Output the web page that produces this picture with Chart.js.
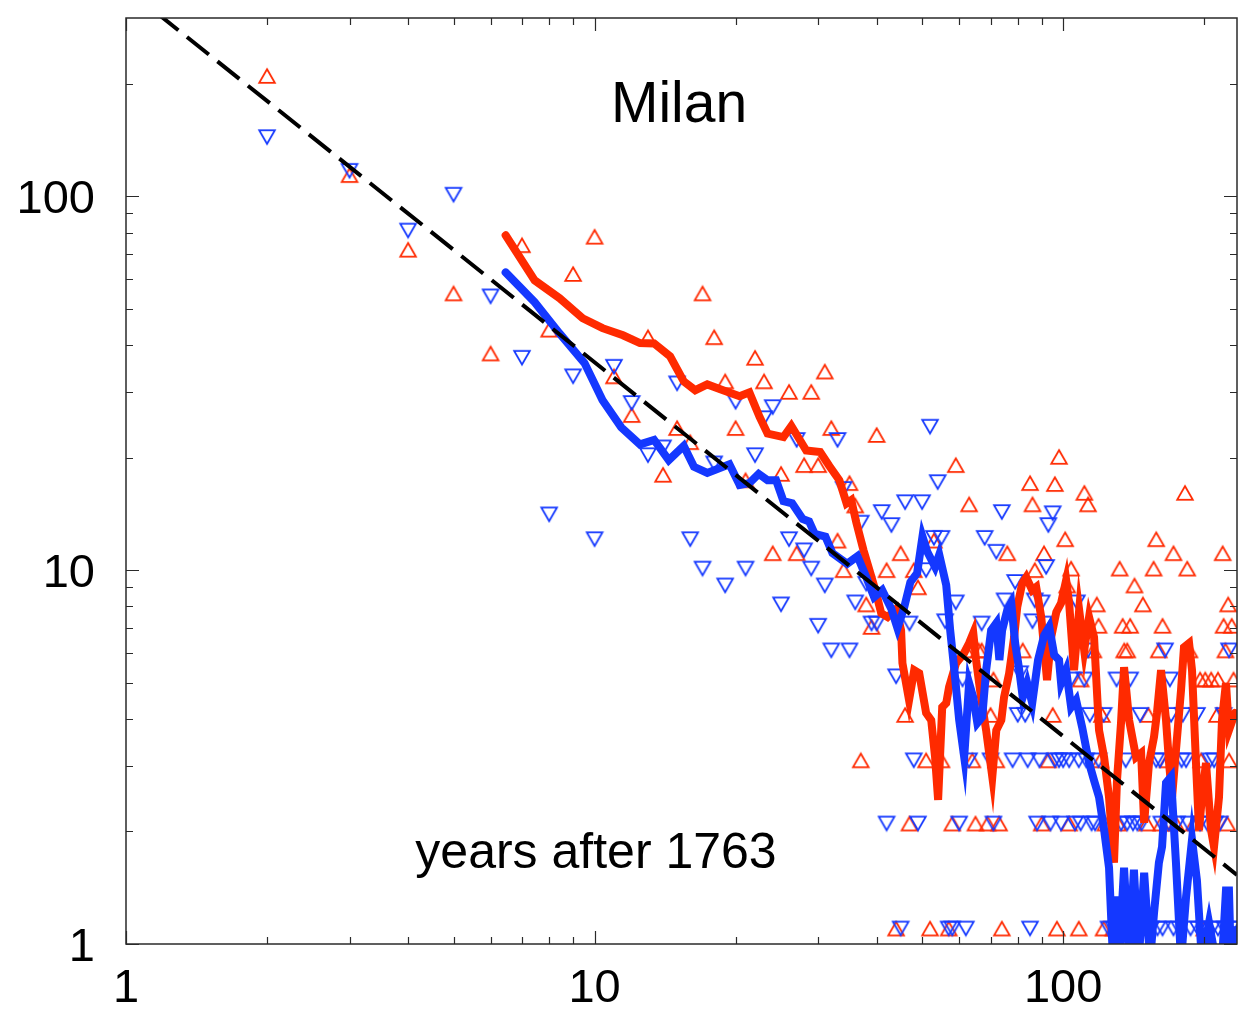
<!DOCTYPE html>
<html lang="en">
<head>
<meta charset="UTF-8">
<script src="https://cdn.jsdelivr.net/npm/chart.js"></script>
<title>Milan</title>
<style>
  body { margin: 0; background: #fff; }
</style>
</head>
<body>
<canvas id="grafico" width="1238" height="1019"></canvas>
<script>
// marcadores (triangulo para cima = vermelho, para baixo = azul)
var redX = [2,3,4,5,6,7,8,9,10,11,12,13,14,15,16,17,18,19,20,21,22,23,24,25,26,27,28,29,30,31,32,33,34,35,36,37,38,39,40,42,44,45,46,47,48,49,51,52,53,55,57,58,59,62,63,64,65,66,67,69,70,71,72,73,74,76,82,85,86,87,90,91,93,95,96,97,98,101,102,103,104,108,109,111,113,116,118,119,120,121,122,123,128,131,132,134,135,137,139,142,148,151,152,156,158,160,162,163,167,172,174,182,184,186,190,196,197,200,201,207,213,214,219,220,222,224,225,226,229,231]
var redY = [210,114,72,55,38,74,44,62,78,33,26,42,18,24,22,55,42,32,24,17.4,37,32,11.1,18.1,30,11.1,19.1,30,19.1,34,24,12,10,17.1,14.9,3.1,8.1,7.05,23,10,1.1,11.1,4.1,2.1,10,9,3.1,1.1,12,3.1,1.1,2.1,19.1,6.1,15,3.1,2.1,6.1,6.1,2.1,4.1,5.1,3.1,2.1,1.1,11.1,6.1,17.1,15,10,2.1,11.1,3.1,4.1,17,1.1,20.1,12.1,9.1,2.1,10.1,1.1,5.1,16.1,15,6.1,8.1,7.1,3.1,4.1,1.1,2.1,1.1,2.1,10.1,7.1,6.1,6.1,7.1,9.1,8.1,2.1,4.1,10.1,12.1,6.1,2.1,7.1,3.1,11.1,2.1,16.1,10.1,6.1,2.1,5.1,3.1,1.1,5.1,5.1,4.1,5.1,11.1,7.1,6.1,2.1,8.1,3.1,7.1,5.1]

var blueX = [2,3,4,5,6,7,8,9,10,11,12,13,14,15,16,17,18,19,20,21,22,23,24,25,26,27,28,29,30,31,32,33,34,35,36,37,38,39,40,41,42,43,44,45,46,47,48,49,50,51,52,53,54,55,56,57,58,59,60,61,62,63,67,68,70,71,72,74,75,78,79,80,81,83,84,85,86,87,88,89,90,91,92,93,94,95,96,98,99,100,103,104,106,107,108,109,111,112,113,114,115,117,119,122,125,128,130,133,134,136,137,139,140,141,143,144,146,147,150,154,158,159,161,162,163,165,168,169,170,172,175,177,179,180,183,185,187,193,194,196,200,203,206,208,210,211,214,216,220,221,226,228,233]
var blueY = [144,117,81,101,54,37,14.1,33,12.1,35,28,20.3,21.3,31.6,12.1,10.1,19.3,9.1,28.2,10.1,20.3,25.5,27.3,8.1,12.1,22.3,11.3,10.1,7.1,9.1,6.1,22.3,16.5,6.1,8.2,13.4,9.2,7.2,7.2,14.3,2.1,13.2,5.2,1.1,15.2,7.2,3.1,2.1,15.2,10,24.2,12.2,17.2,12.2,7.3,1.1,1.1,8.2,2.1,5.1,1.1,3.1,7.2,12.2,3.1,2.1,11.2,14.3,8.3,3.1,9.3,4.1,5.3,4.1,3.1,1.1,7.3,8.3,2.1,3.1,8.2,7.2,10.2,13.2,2.1,14.2,3.1,3.1,2.1,3.1,3.1,5.1,2.1,8.2,3.1,2.1,5.1,3.1,6.1,4.1,2.1,2.1,3.1,4.1,1.1,1.1,5.1,2.1,1.1,3.1,2.1,5.1,1.1,2.1,1.1,2.1,4.1,2.1,1.1,1.1,3.1,1.1,3.1,2.1,1.1,6.1,2.1,5.1,4.1,1.1,2.1,1.1,3.1,4.1,3.1,2.1,1.1,4.1,1.1,2.1,1.1,2.1,3.1,1.1,3.1,2.1,1.1,2.1,4.1,1.1,6.1,1.1,1.1]

// medias moveis
var redLineX = [6.46,7.45,8.42,9.43,10.4,11.5,12.5,13.4,14.5,15.5,16.4,17.4,18.8,20.4,21.4,22.5,23.4,25.3,26.3,28.3,30.3,31.7,33.3,34.5,35.3,36.2,37.5,38.6,39.9,40.9,42.2,44.0,45.1,45.4,46.9,48.1,49.3,51.0,52.3,53.3,54.1,55.2,56.3,57.1,59.1,61.5,63.0,64.3,65.2,66.8,68.5,70.6,72.0,73.8,74.8,76.7,78.6,79.8,81.8,83.4,85.9,87.6,89.8,92.4,94.3,96.7,99.0,101.5,103.0,105.5,108.2,110.9,113.6,116.4,119.3,122.3,125.3,128.4,130.3,132.9,134.9,138.3,143.1,146.7,148.9,152.5,156.3,158.6,161.8,165.8,168.3,170.8,174.1,178.5,181.1,185.7,188.4,192.1,195.0,197.8,201.8,206.8,209.9,215.1,218.3,222.6,225.9,232.7]
var redLineY = [78.7,59.6,53.4,47.2,44.4,42.5,40.5,40.4,37.3,32.0,30.3,31.4,30.3,29.2,29.9,25.7,23.2,22.7,24.3,20.9,20.7,19.0,17.4,15.1,15.4,13.4,11.3,10.0,8.68,7.67,7.49,7.87,6.91,5.64,4.49,5.40,5.30,4.15,3.97,3.16,2.43,4.30,4.41,4.87,5.64,6.00,6.38,6.79,5.75,4.57,3.73,2.80,3.73,3.97,4.57,5.30,6.62,7.96,9.23,9.58,8.84,9.01,7.49,5.08,6.62,7.72,8.16,9.40,8.16,5.40,7.82,6.11,7.49,6.62,3.73,3.16,2.47,1.65,2.74,3.90,5.50,3.97,3.16,3.24,2.11,3.05,3.58,4.15,5.40,3.97,3.05,2.47,3.30,4.78,6.22,6.38,5.40,3.05,2.02,2.47,3.05,2.02,1.82,2.47,3.97,4.99,3.73,4.15]

var blueLineX = [6.46,7.45,8.42,9.52,10.4,11.4,12.5,13.4,14.4,15.5,16.3,17.4,19.4,20.4,21.4,22.4,23.4,24.4,25.3,26.4,27.8,28.7,29.5,31.1,32.2,34.6,36.4,38.0,39.5,41.1,43.0,44.3,45.8,47.2,48.8,50.1,51.3,53.3,54.4,56.3,57.4,58.6,60.0,61.5,63.0,64.3,65.6,67.2,68.5,70.2,72.0,73.1,74.1,76.0,77.5,79.0,80.6,82.0,83.8,85.9,88.4,91.1,93.4,95.7,98.0,99.0,101.5,104.0,106.6,109.8,113.6,116.4,119.3,122.3,125.3,127.8,129.7,131.6,134.9,138.3,141.6,145.0,148.9,153.3,156.3,160.1,162.6,165.8,169.9,174.1,178.5,183.0,188.4,193.0,197.8,204.8,211.9,218.3,222.6,225.9,228.0,233.8]
var blueLineY = [62.6,52.1,43.0,35.8,28.5,24.1,21.7,22.3,19.7,21.5,18.9,18.2,19.2,16.9,17.1,18.1,17.4,17.4,15.3,15.1,13.7,13.5,12.5,12.3,11.1,10.4,10.9,9.58,8.47,8.84,7.87,7.00,7.96,9.29,9.82,12.3,11.2,10.2,11.0,9.12,6.91,5.40,3.97,3.16,4.99,4.57,3.90,4.05,5.40,6.91,7.22,5.75,6.91,7.82,8.16,6.38,5.40,4.57,4.99,4.41,5.75,6.70,7.05,5.93,5.75,4.99,5.40,4.30,4.49,3.80,3.05,2.74,2.47,2.02,1.60,0.9,1.34,0.9,1.60,0.9,1.58,0.9,1.55,0.9,1.21,1.65,1.82,2.70,2.80,1.65,0.9,1.34,1.90,1.48,0.9,1.14,0.9,0.9,1.39,1.39,0.9,1.09]

// reta tracejada (lei de potencia)
var fitX = [1, 235]
var fitY = [360, 1.53]

var xTicks = [1, 10, 100]
var yTicks = [1, 10, 100]

var vermelho = "#ff2a00"
var azul = "#1438ff"

function pares(xs, ys) {
  var lista = []
  for (var i = 0; i < xs.length; i++) {
    lista.push({ x: xs[i], y: ys[i] })
  }
  return lista
}

// triangulo vazado centrado pela caixa, como no original
function triangulo(cor, paraBaixo) {
  var c = document.createElement("canvas")
  c.width = 20
  c.height = 18
  var g = c.getContext("2d")
  g.strokeStyle = cor
  g.lineWidth = 1.8
  g.beginPath()
  if (paraBaixo) {
    g.moveTo(2.2, 2.2); g.lineTo(17.8, 2.2); g.lineTo(10, 15.8)
  } else {
    g.moveTo(10, 2.2); g.lineTo(17.8, 15.8); g.lineTo(2.2, 15.8)
  }
  g.closePath()
  g.stroke()
  return c
}

// 1..9 de cada decada, a primeira de cada uma e a marca maior
function marcas(decadas) {
  var todas = []
  decadas.forEach(function (d) {
    for (var k = 1; k <= 9; k++) {
      todas.push({ v: d * k, maior: k == 1 })
    }
  })
  return todas
}

var molduraPlugin = {
  id: "moldura",
  afterDraw: function (chart) {
    var ctx = chart.ctx
    var a = chart.chartArea
    var sx = chart.scales.x
    var sy = chart.scales.y
    ctx.save()
    ctx.strokeStyle = "#2a2a2a"
    ctx.lineWidth = 1.5
    ctx.strokeRect(a.left, a.top, a.right - a.left, a.bottom - a.top)

    ctx.lineWidth = 1.2
    ctx.beginPath()
    marcas([1, 10, 100]).forEach(function (t) {
      if (t.v > sx.max) return
      var px = Math.round(sx.getPixelForValue(t.v)) + 0.5
      var len = t.maior ? 13 : 7
      ctx.moveTo(px, a.bottom); ctx.lineTo(px, a.bottom - len)
      ctx.moveTo(px, a.top); ctx.lineTo(px, a.top + len)
    })
    marcas([1, 10, 100]).forEach(function (t) {
      if (t.v >= sy.max) return
      var py = Math.round(sy.getPixelForValue(t.v)) + 0.5
      var len = t.maior ? 13 : 7
      ctx.moveTo(a.left, py); ctx.lineTo(a.left + len, py)
      ctx.moveTo(a.right, py); ctx.lineTo(a.right - len, py)
    })
    ctx.stroke()

    ctx.fillStyle = "#000"
    ctx.font = '47px "Liberation Sans", Arial, Helvetica, sans-serif'
    ctx.textBaseline = "alphabetic"
    ctx.textAlign = "right"
    yTicks.forEach(function (v) {
      ctx.fillText(String(v), a.left - 31, sy.getPixelForValue(v) + 17)
    })
    ctx.textAlign = "center"
    xTicks.forEach(function (v) {
      ctx.fillText(String(v), sx.getPixelForValue(v), a.bottom + 58)
    })

    ctx.font = '57px "Liberation Sans", Arial, Helvetica, sans-serif'
    ctx.fillText("Milan", 679, 122)
    ctx.font = '50px "Liberation Sans", Arial, Helvetica, sans-serif'
    ctx.fillText("years after 1763", 596, 868)
    ctx.restore()
  }
}

var ctx = document.getElementById("grafico")
var grafico = new Chart(ctx, {
  type: "scatter",
  data: {
    datasets: [
      {
        label: "ajuste",
        data: pares(fitX, fitY),
        showLine: true,
        pointRadius: 0,
        borderColor: "#000",
        borderWidth: 4,
        borderDash: [28, 11],
        clip: 0,
        order: 0
      },
      {
        label: "media azul",
        data: pares(blueLineX, blueLineY),
        showLine: true,
        pointRadius: 0,
        borderColor: azul,
        borderWidth: 8,
        borderCapStyle: "round",
        clip: 0,
        order: 1
      },
      {
        label: "media vermelha",
        data: pares(redLineX, redLineY),
        showLine: true,
        pointRadius: 0,
        borderColor: vermelho,
        borderWidth: 8,
        borderCapStyle: "round",
        clip: 0,
        order: 2
      },
      {
        label: "azul",
        data: pares(blueX, blueY),
        pointStyle: triangulo(azul, true),
        pointRadius: 9,
        order: 3
      },
      {
        label: "vermelho",
        data: pares(redX, redY),
        pointStyle: triangulo(vermelho, false),
        pointRadius: 9,
        order: 4
      }
    ]
  },
  options: {
    responsive: false,
    animation: false,
    devicePixelRatio: 1,
    layout: { autoPadding: false, padding: { left: 126, top: 18, right: 1, bottom: 75 } },
    plugins: { legend: { display: false }, tooltip: { enabled: false } },
    scales: {
      x: { type: "logarithmic", min: 1, max: 235, display: false },
      y: { type: "logarithmic", min: 1, max: 300, display: false }
    }
  },
  plugins: [molduraPlugin]
})
</script>
</body>
</html>
